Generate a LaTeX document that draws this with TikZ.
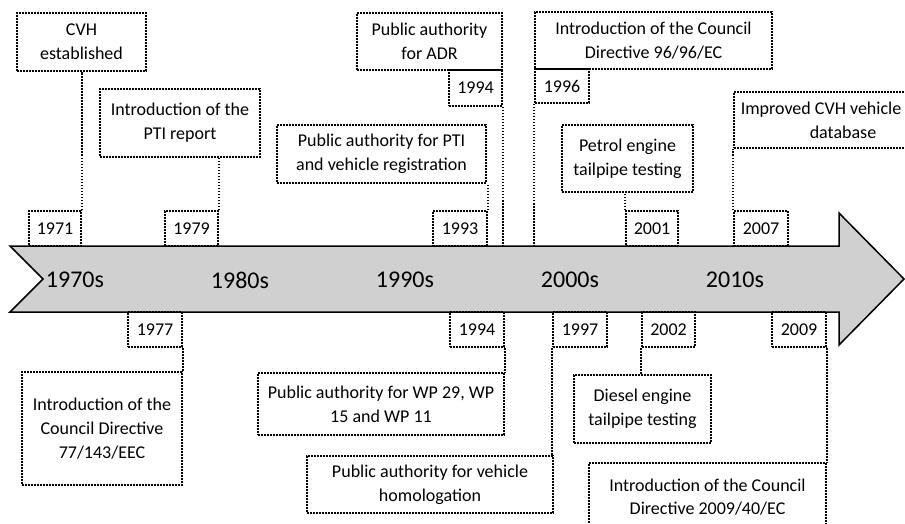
\documentclass[tikz,border=0pt]{standalone}
\usepackage{fontspec}
\setmainfont{Carlito}
\definecolor{arrowgray}{RGB}{208,208,208}
\begin{document}
\begin{tikzpicture}[x=1pt,y=-1pt,
  dot/.style={line width=1.8pt, dash pattern=on 1.6pt off 1.4pt},
  evbox/.style={draw, dot, inner sep=0pt, align=center, font=\fontsize{18}{23.7}\selectfont},
  yrbox/.style={draw, dot, inner sep=0pt, minimum height=35pt, font=\fontsize{18}{22}\selectfont},
  decade/.style={font=\fontsize{24}{28}\selectfont}]
\useasboundingbox (0,0) rectangle (905,524);
% main arrow
\draw[line width=1.5pt, fill=arrowgray, line join=miter]
  (10,246) -- (839,246) -- (839,213) -- (904,279) -- (839,345) -- (839,312) -- (10,312) -- (43,279) -- cycle;
\coordinate (arrowtop) at (0,246);
% decades
\node[decade] (d1970) at (75,280) {1970s};
\node[decade] (d1980) at (240,280) {1980s};
\node[decade] (d1990) at (405,280) {1990s};
\node[decade] (d2000) at (570,280) {2000s};
\node[decade] (d2010) at (735,280) {2010s};
% top events
\node[evbox, minimum width=129pt, minimum height=58pt] (cvh) at (81.5,42) {CVH\\established};
\node[evbox, minimum width=160pt, minimum height=68pt] (pti) at (180,123) {Introduction of the\\PTI report};
\node[evbox, minimum width=209pt, minimum height=58pt] (ptireg) at (381.5,154) {Public authority for PTI\\and vehicle registration};
\node[evbox, minimum width=145pt, minimum height=57pt] (adr) at (429.5,41.5) {Public authority\\for ADR};
\node[evbox, minimum width=237pt, minimum height=57pt] (d96) at (653.5,40.5) {Introduction of the Council\\Directive 96/96/EC};
\node[evbox, minimum width=131pt, minimum height=67pt] (petrol) at (627.5,158.5) {Petrol engine\\tailpipe testing};
\node[evbox, minimum width=174pt, minimum height=56pt] (cvhdb) at (821,120) {Improved CVH vehicle\\\hspace*{44pt}database};
% top years
\node[yrbox, minimum width=52pt] (y1971) at (55,228.5) {1971};
\node[yrbox, minimum width=53pt] (y1979) at (191.5,228.5) {1979};
\node[yrbox, minimum width=54pt] (y1993) at (460,228.5) {1993};
\node[yrbox, minimum width=53pt, minimum height=36pt] (y1994a) at (475.5,88) {1994};
\node[yrbox, minimum width=54pt, minimum height=34pt] (y1996) at (562,86) {1996};
\node[yrbox, minimum width=52pt] (y2001) at (652,228.5) {2001};
\node[yrbox, minimum width=54pt] (y2007) at (761,228.5) {2007};
% bottom years
\node[yrbox, minimum width=54pt] (y1977) at (155,329.5) {1977};
\node[yrbox, minimum width=54pt] (y1994b) at (477,329.5) {1994};
\node[yrbox, minimum width=54pt] (y1997) at (580,329.5) {1997};
\node[yrbox, minimum width=53pt] (y2002) at (668.5,329.5) {2002};
\node[yrbox, minimum width=54pt] (y2009) at (799,329.5) {2009};
% bottom events
\node[evbox, minimum width=160pt, minimum height=113pt] (d77) at (102,428.5) {Introduction of the\\Council Directive\\77/143/EEC};
\node[evbox, minimum width=246pt, minimum height=62pt] (wp) at (381,404) {Public authority for WP 29, WP\\15 and WP 11};
\node[evbox, minimum width=246pt, minimum height=57pt] (homol) at (430,484.5) {Public authority for vehicle\\homologation};
\node[evbox, minimum width=137pt, minimum height=68pt] (diesel) at (642.5,409) {Diesel engine\\tailpipe testing};
\node[evbox, minimum width=237pt, minimum height=68pt] (d09) at (707.5,497) {Introduction of the Council\\Directive 2009/40/EC};
% connectors
\draw[dot] (y1971.north east) -- (y1971.north east |- cvh.south);
\draw[dot] (y1979.north east) -- (y1979.north east |- pti.south);
\draw[dot] (y1993.north east) -- (y1993.north east |- ptireg.south);
\draw[dot] (y1994a.south east) -- (y1994a.south east |- arrowtop);
\draw[dot] (y1996.south west) -- (y1996.south west |- arrowtop);
\draw[dot] (y2001.north west) -- (y2001.north west |- petrol.south);
\draw[dot] (y2007.north west) -- (y2007.north west |- cvhdb.south);
\draw[dot] (y1977.south east) -- (y1977.south east |- d77.north);
\draw[dot] (y1994b.south east) -- (y1994b.south east |- wp.north);
\draw[dot] (y1997.south west) -- (y1997.south west |- homol.north);
\draw[dot] (y2002.south west) -- (y2002.south west |- diesel.north);
\draw[dot] (y2009.south east) -- (y2009.south east |- d09.north);
\end{tikzpicture}
\end{document}
